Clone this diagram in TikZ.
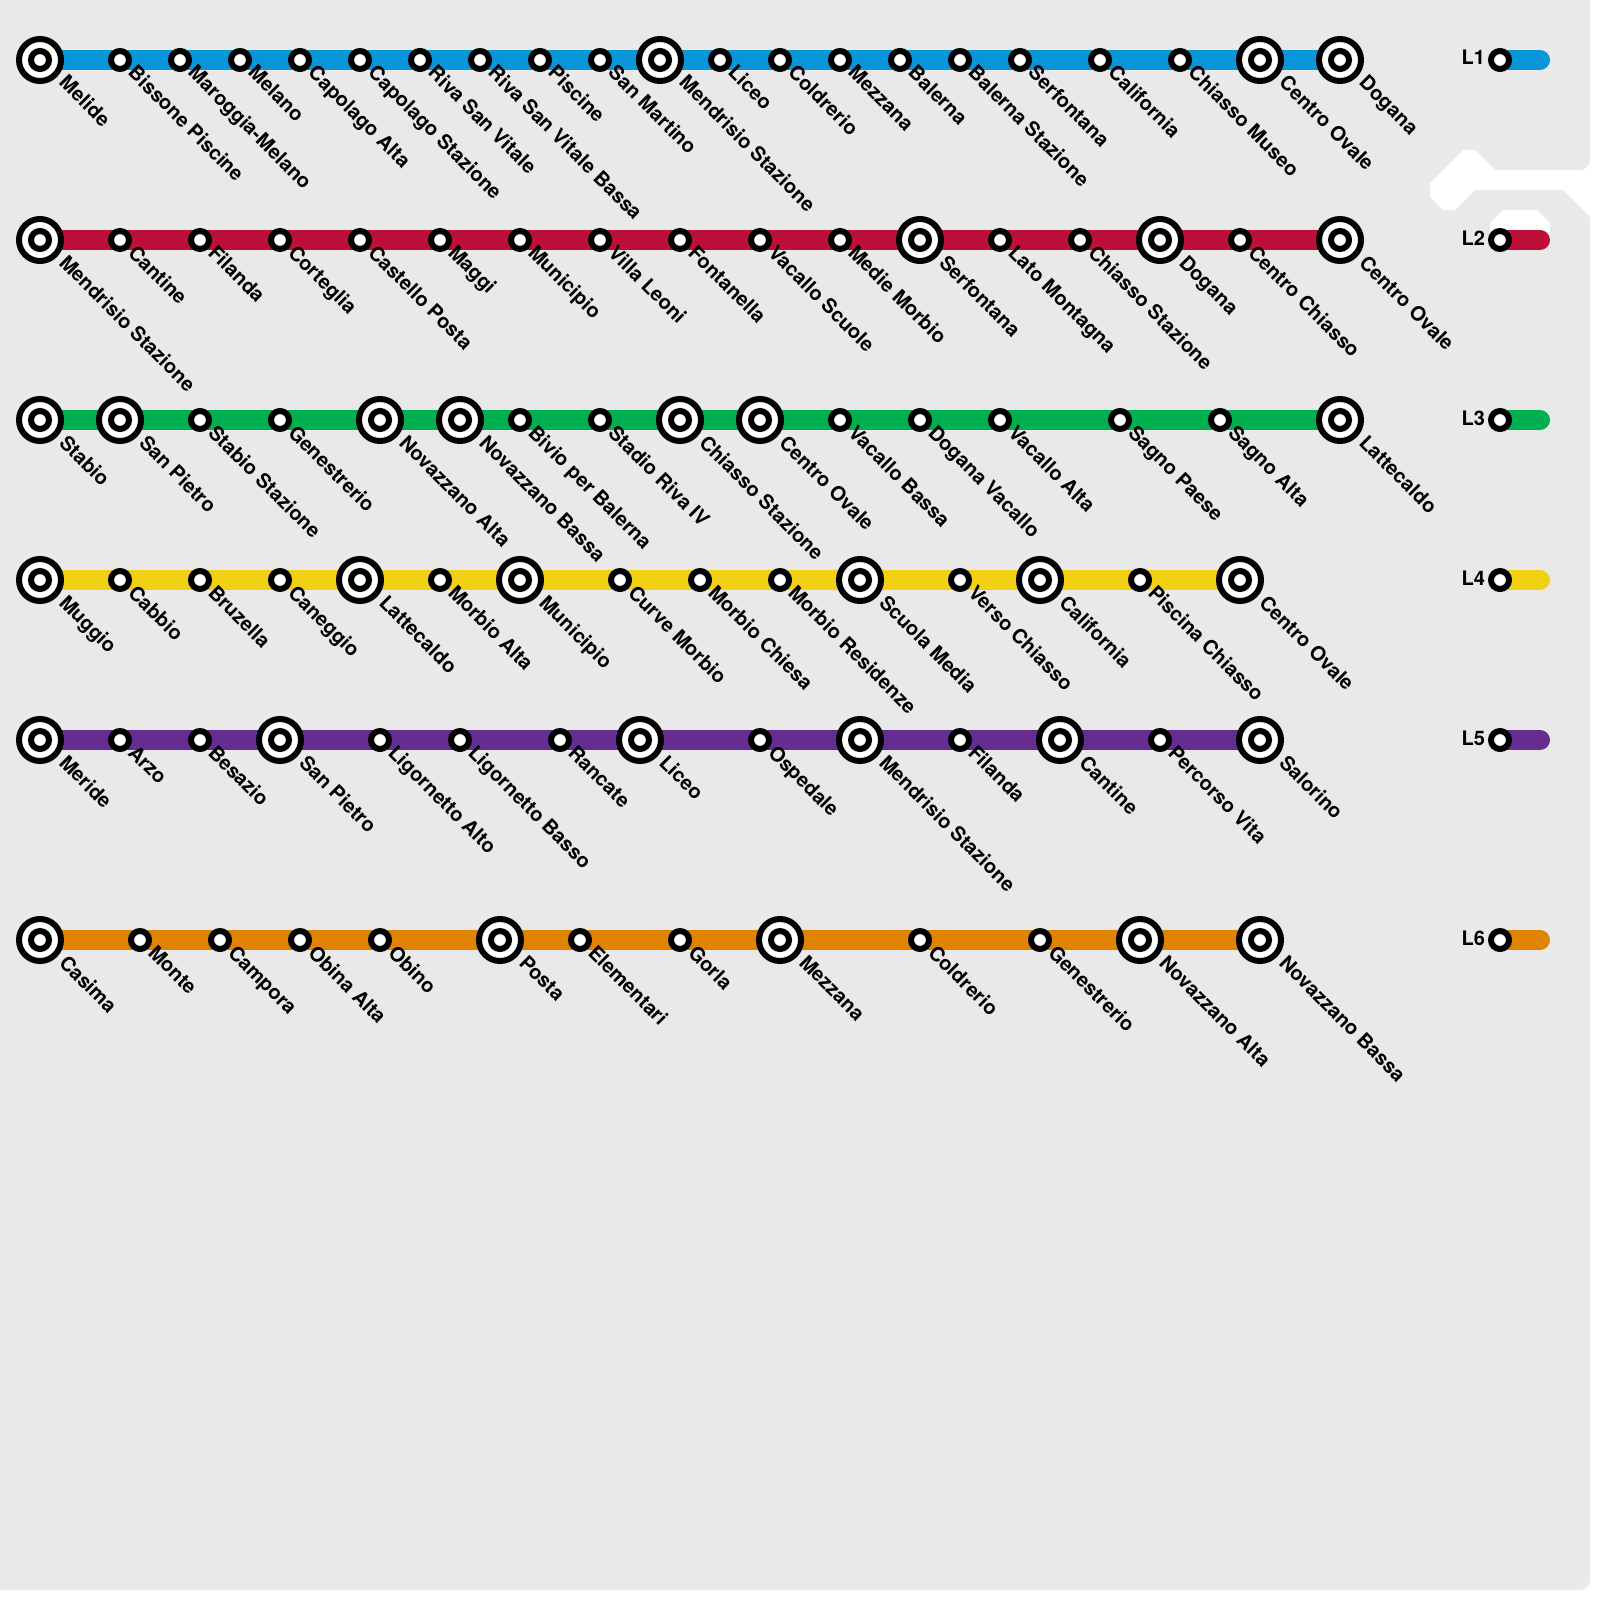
\documentclass[tikz,border=0pt]{standalone}
\usepackage{fontspec}
\setmainfont{TeX Gyre Heros}
\usetikzlibrary{calc}
\pgfdeclarelayer{ground}
\pgfdeclarelayer{lines}
\pgfsetlayers{ground,lines,main}
\definecolor{pagegray}{HTML}{E9E9E9}
\definecolor{cone}{HTML}{0995D9}
\definecolor{ctwo}{HTML}{BD1038}
\definecolor{cthree}{HTML}{00B050}
\definecolor{cfour}{HTML}{F2D014}
\definecolor{cfive}{HTML}{662D91}
\definecolor{csix}{HTML}{E08300}
\def\dxic{18}\def\dyic{24}
\def\dxsm{7}\def\dysm{14}
\tikzset{
  x=1pt,y=-1pt,
  sm/.style={circle,draw=black,fill=white,line width=6pt,minimum size=18pt,inner sep=0pt,outer sep=0pt},
  ic/.style={circle,draw=black,fill=white,line width=6pt,minimum size=42pt,inner sep=0pt,outer sep=0pt,
    path picture={\draw[black,line width=6pt] (path picture bounding box.center) circle (9pt);}},
  lab/.style={rotate=-45,anchor=base west,inner sep=0pt,outer sep=0pt,text=black,font=\fontsize{20}{24}\selectfont\bfseries},
  leg/.style={anchor=base east,inner sep=0pt,outer sep=0pt,text=black,font=\fontsize{20}{24}\selectfont\bfseries},
  route/.style={line width=20pt,line cap=butt},
  legroute/.style={line width=20pt,line cap=round},
}
\newcommand{\stationrow}[3]{%
  \foreach \x/\k/\t [count=\i] in {#3} {%
    \node[\k] (#1s\i) at (\x,#2) {};
    \node[lab] (#1t\i) at ([shift={(\csname dx\k\endcsname,\csname dy\k\endcsname)}]#1s\i.center) {\t};
  }%
}
\newcommand{\legendrow}[4]{% id, y, colour, label
  \node[sm] (#1k) at (1500,#2) {};
  \node[leg] (#1n) at (1485,#2+5) {#4};
  \coordinate (#1e) at (1540,#2);
  \begin{pgfonlayer}{lines}
    \draw[legroute,#3] (#1k.center) -- (#1e);
  \end{pgfonlayer}
}
\begin{document}
\begin{tikzpicture}
\useasboundingbox (0,0) rectangle (1600,1600);
\begin{pgfonlayer}{ground}
  \fill[white] (0,0) rectangle (1600,1600);
  \fill[pagegray] (0,0) -- (1590,0) -- (1590,1580) arc[start angle=0,end angle=-90,radius=10pt] -- (0,1590) -- cycle;
  \fill[white] (1463,150) -- (1475,150) -- (1495,170) -- (1580,170) arc[start angle=270,end angle=360,radius=10pt] -- (1600,160) -- (1600,227) -- (1563,190) -- (1475,190) -- (1455,210) -- (1443,210) -- (1430,197) -- (1430,183) -- cycle;
  \fill[white] (1503,210) -- (1537,210) -- (1550,223) -- (1550,240) -- (1490,240) -- (1490,223) -- cycle;
\end{pgfonlayer}

\stationrow{a}{60}{40/ic/Melide,120/sm/Bissone Piscine,180/sm/Maroggia-Melano,240/sm/Melano,300/sm/Capolago Alta,360/sm/Capolago Stazione,420/sm/Riva San Vitale,480/sm/Riva San Vitale Bassa,540/sm/Piscine,600/sm/San Martino,660/ic/Mendrisio Stazione,720/sm/Liceo,780/sm/Coldrerio,840/sm/Mezzana,900/sm/Balerna,960/sm/Balerna Stazione,1020/sm/Serfontana,1100/sm/California,1180/sm/Chiasso Museo,1260/ic/Centro Ovale,1340/ic/Dogana}
\stationrow{b}{240}{40/ic/Mendrisio Stazione,120/sm/Cantine,200/sm/Filanda,280/sm/Corteglia,360/sm/Castello Posta,440/sm/Maggi,520/sm/Municipio,600/sm/Villa Leoni,680/sm/Fontanella,760/sm/Vacallo Scuole,840/sm/Medie Morbio,920/ic/Serfontana,1000/sm/Lato Montagna,1080/sm/Chiasso Stazione,1160/ic/Dogana,1240/sm/Centro Chiasso,1340/ic/Centro Ovale}
\stationrow{c}{420}{40/ic/Stabio,120/ic/San Pietro,200/sm/Stabio Stazione,280/sm/Genestrerio,380/ic/Novazzano Alta,460/ic/Novazzano Bassa,520/sm/Bivio per Balerna,600/sm/Stadio Riva IV,680/ic/Chiasso Stazione,760/ic/Centro Ovale,840/sm/Vacallo Bassa,920/sm/Dogana Vacallo,1000/sm/Vacallo Alta,1120/sm/Sagno Paese,1220/sm/Sagno Alta,1340/ic/Lattecaldo}
\stationrow{d}{580}{40/ic/Muggio,120/sm/Cabbio,200/sm/Bruzella,280/sm/Caneggio,360/ic/Lattecaldo,440/sm/Morbio Alta,520/ic/Municipio,620/sm/Curve Morbio,700/sm/Morbio Chiesa,780/sm/Morbio Residenze,860/ic/Scuola Media,960/sm/Verso Chiasso,1040/ic/California,1140/sm/Piscina Chiasso,1240/ic/Centro Ovale}
\stationrow{e}{740}{40/ic/Meride,120/sm/Arzo,200/sm/Besazio,280/ic/San Pietro,380/sm/Ligornetto Alto,460/sm/Ligornetto Basso,560/sm/Rancate,640/ic/Liceo,760/sm/Ospedale,860/ic/Mendrisio Stazione,960/sm/Filanda,1060/ic/Cantine,1160/sm/Percorso Vita,1260/ic/Salorino}
\stationrow{f}{940}{40/ic/Casima,140/sm/Monte,220/sm/Campora,300/sm/Obina Alta,380/sm/Obino,500/ic/Posta,580/sm/Elementari,680/sm/Gorla,780/ic/Mezzana,920/sm/Coldrerio,1040/sm/Genestrerio,1140/ic/Novazzano Alta,1260/ic/Novazzano Bassa}

\begin{pgfonlayer}{lines}
  \draw[route,cone] (as1.center) -- (as21.center);
  \draw[route,ctwo] (bs1.center) -- (bs17.center);
  \draw[route,cthree] (cs1.center) -- (cs16.center);
  \draw[route,cfour] (ds1.center) -- (ds15.center);
  \draw[route,cfive] (es1.center) -- (es14.center);
  \draw[route,csix] (fs1.center) -- (fs13.center);
\end{pgfonlayer}

\legendrow{la}{60}{cone}{L1}
\legendrow{lb}{240}{ctwo}{L2}
\legendrow{lc}{420}{cthree}{L3}
\legendrow{ld}{580}{cfour}{L4}
\legendrow{le}{740}{cfive}{L5}
\legendrow{lf}{940}{csix}{L6}
\end{tikzpicture}
\end{document}
